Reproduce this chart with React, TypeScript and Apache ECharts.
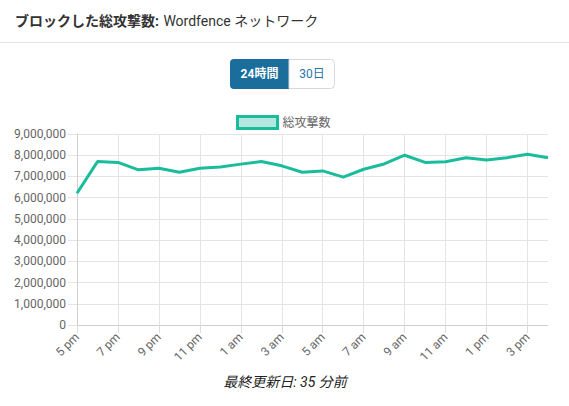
import * as echarts from "echarts";
import { useEffect, useRef } from "react";

const hours = [
  "5 pm", "6 pm", "7 pm", "8 pm", "9 pm", "10 pm", "11 pm", "12 am",
  "1 am", "2 am", "3 am", "4 am", "5 am", "6 am", "7 am", "8 am",
  "9 am", "10 am", "11 am", "12 pm", "1 pm", "2 pm", "3 pm", "4 pm",
];
const attacks = [
  6210000, 7700000, 7660000, 7310000, 7390000, 7200000, 7390000, 7450000,
  7580000, 7700000, 7500000, 7200000, 7260000, 6970000, 7340000, 7590000,
  8000000, 7660000, 7690000, 7880000, 7770000, 7880000, 8050000, 7880000,
];
const seriesName = "総攻撃数";
const rangeButtons = ["24時間", "30日"];

const FONT = "Roboto, 'Noto Sans CJK JP', sans-serif";

export default function App() {
  const chartRef = useRef<HTMLDivElement>(null);

  useEffect(() => {
    if (!chartRef.current) return;
    const chart = echarts.init(chartRef.current, null, { renderer: "svg" });

    chart.setOption({
      animation: false,
      textStyle: { fontFamily: FONT },
      title: {
        left: 10,
        top: 7,
        text: "{b|ブロックした総攻撃数:} {n|Wordfence ネットワーク}",
        textStyle: {
          fontWeight: "normal",
          rich: {
            b: { fontSize: 14, fontWeight: "bold", color: "#333", fontFamily: FONT },
            n: { fontSize: 14, fontWeight: "normal", color: "#333", fontFamily: FONT },
          },
        },
      },
      legend: {
        left: 231,
        top: 110,
        itemWidth: 40,
        itemHeight: 12,
        itemGap: 10,
        icon: "rect",
        textStyle: { color: "#666", fontSize: 12, fontFamily: FONT },
        data: [
          {
            name: seriesName,
            icon: "rect",
            itemStyle: { color: "#b4e7df", borderColor: "#1abc9c", borderWidth: 3 },
          },
        ],
      },
      grid: { left: 77, right: 21, top: 134, bottom: 81 },
      xAxis: {
        type: "category",
        data: hours,
        boundaryGap: false,
        axisLine: { lineStyle: { color: "#cfcfcf" } },
        axisTick: { interval: 1, length: 8, lineStyle: { color: "#dcdcdc" } },
        axisLabel: { interval: 1, rotate: 45, color: "#666", fontSize: 12, margin: 10 },
        splitLine: { show: true, interval: 1, lineStyle: { color: "#e4e4e4" } },
      },
      yAxis: {
        type: "value",
        min: 0,
        max: 9000000,
        interval: 1000000,
        axisLine: { show: true, lineStyle: { color: "#cfcfcf" } },
        axisTick: { show: true, length: 9, lineStyle: { color: "#e4e4e4" } },
        axisLabel: {
          color: "#666",
          fontSize: 12,
          margin: 11,
          formatter: (v: number) => v.toLocaleString("en-US"),
        },
        splitLine: { lineStyle: { color: "#e4e4e4" } },
      },
      series: [
        {
          name: seriesName,
          type: "line",
          data: attacks,
          showSymbol: false,
          lineStyle: { color: "#1abc9c", width: 3 },
          itemStyle: { color: "#b4e7df", borderColor: "#1abc9c", borderWidth: 3 },
        },
      ],
      graphic: [
        {
          type: "line",
          shape: { x1: 0, y1: 42.5, x2: 569, y2: 42.5 },
          style: { stroke: "#e6e6e6", lineWidth: 1 },
        },
        {
          type: "rect",
          shape: { x: 230, y: 59, width: 59, height: 30, r: [4, 0, 0, 4] },
          style: { fill: "#1b6e9c" },
        },
        {
          type: "rect",
          shape: { x: 289, y: 59.5, width: 45.5, height: 29, r: [0, 4, 4, 0] },
          style: { fill: "#fff", stroke: "#d8d8d8", lineWidth: 1 },
        },
        {
          type: "text",
          x: 259.5,
          y: 74,
          style: {
            text: rangeButtons[0],
            fill: "#fff",
            font: `bold 12px ${FONT}`,
            align: "center",
            verticalAlign: "middle",
          },
        },
        {
          type: "text",
          x: 312,
          y: 74,
          style: {
            text: rangeButtons[1],
            fill: "#2a72a8",
            font: `12px ${FONT}`,
            align: "center",
            verticalAlign: "middle",
          },
        },
        {
          type: "text",
          x: 285,
          y: 382,
          style: {
            text: "最終更新日: 35 分前",
            fill: "#222",
            font: `italic 14px ${FONT}`,
            align: "center",
            verticalAlign: "middle",
          },
        },
      ],
    });

    return () => {
      chart.dispose();
    };
  }, []);

  return (
    <div
      ref={chartRef}
      style={{ position: "absolute", left: 0, top: 0, width: 569, height: 406, background: "#fff" }}
    />
  );
}
